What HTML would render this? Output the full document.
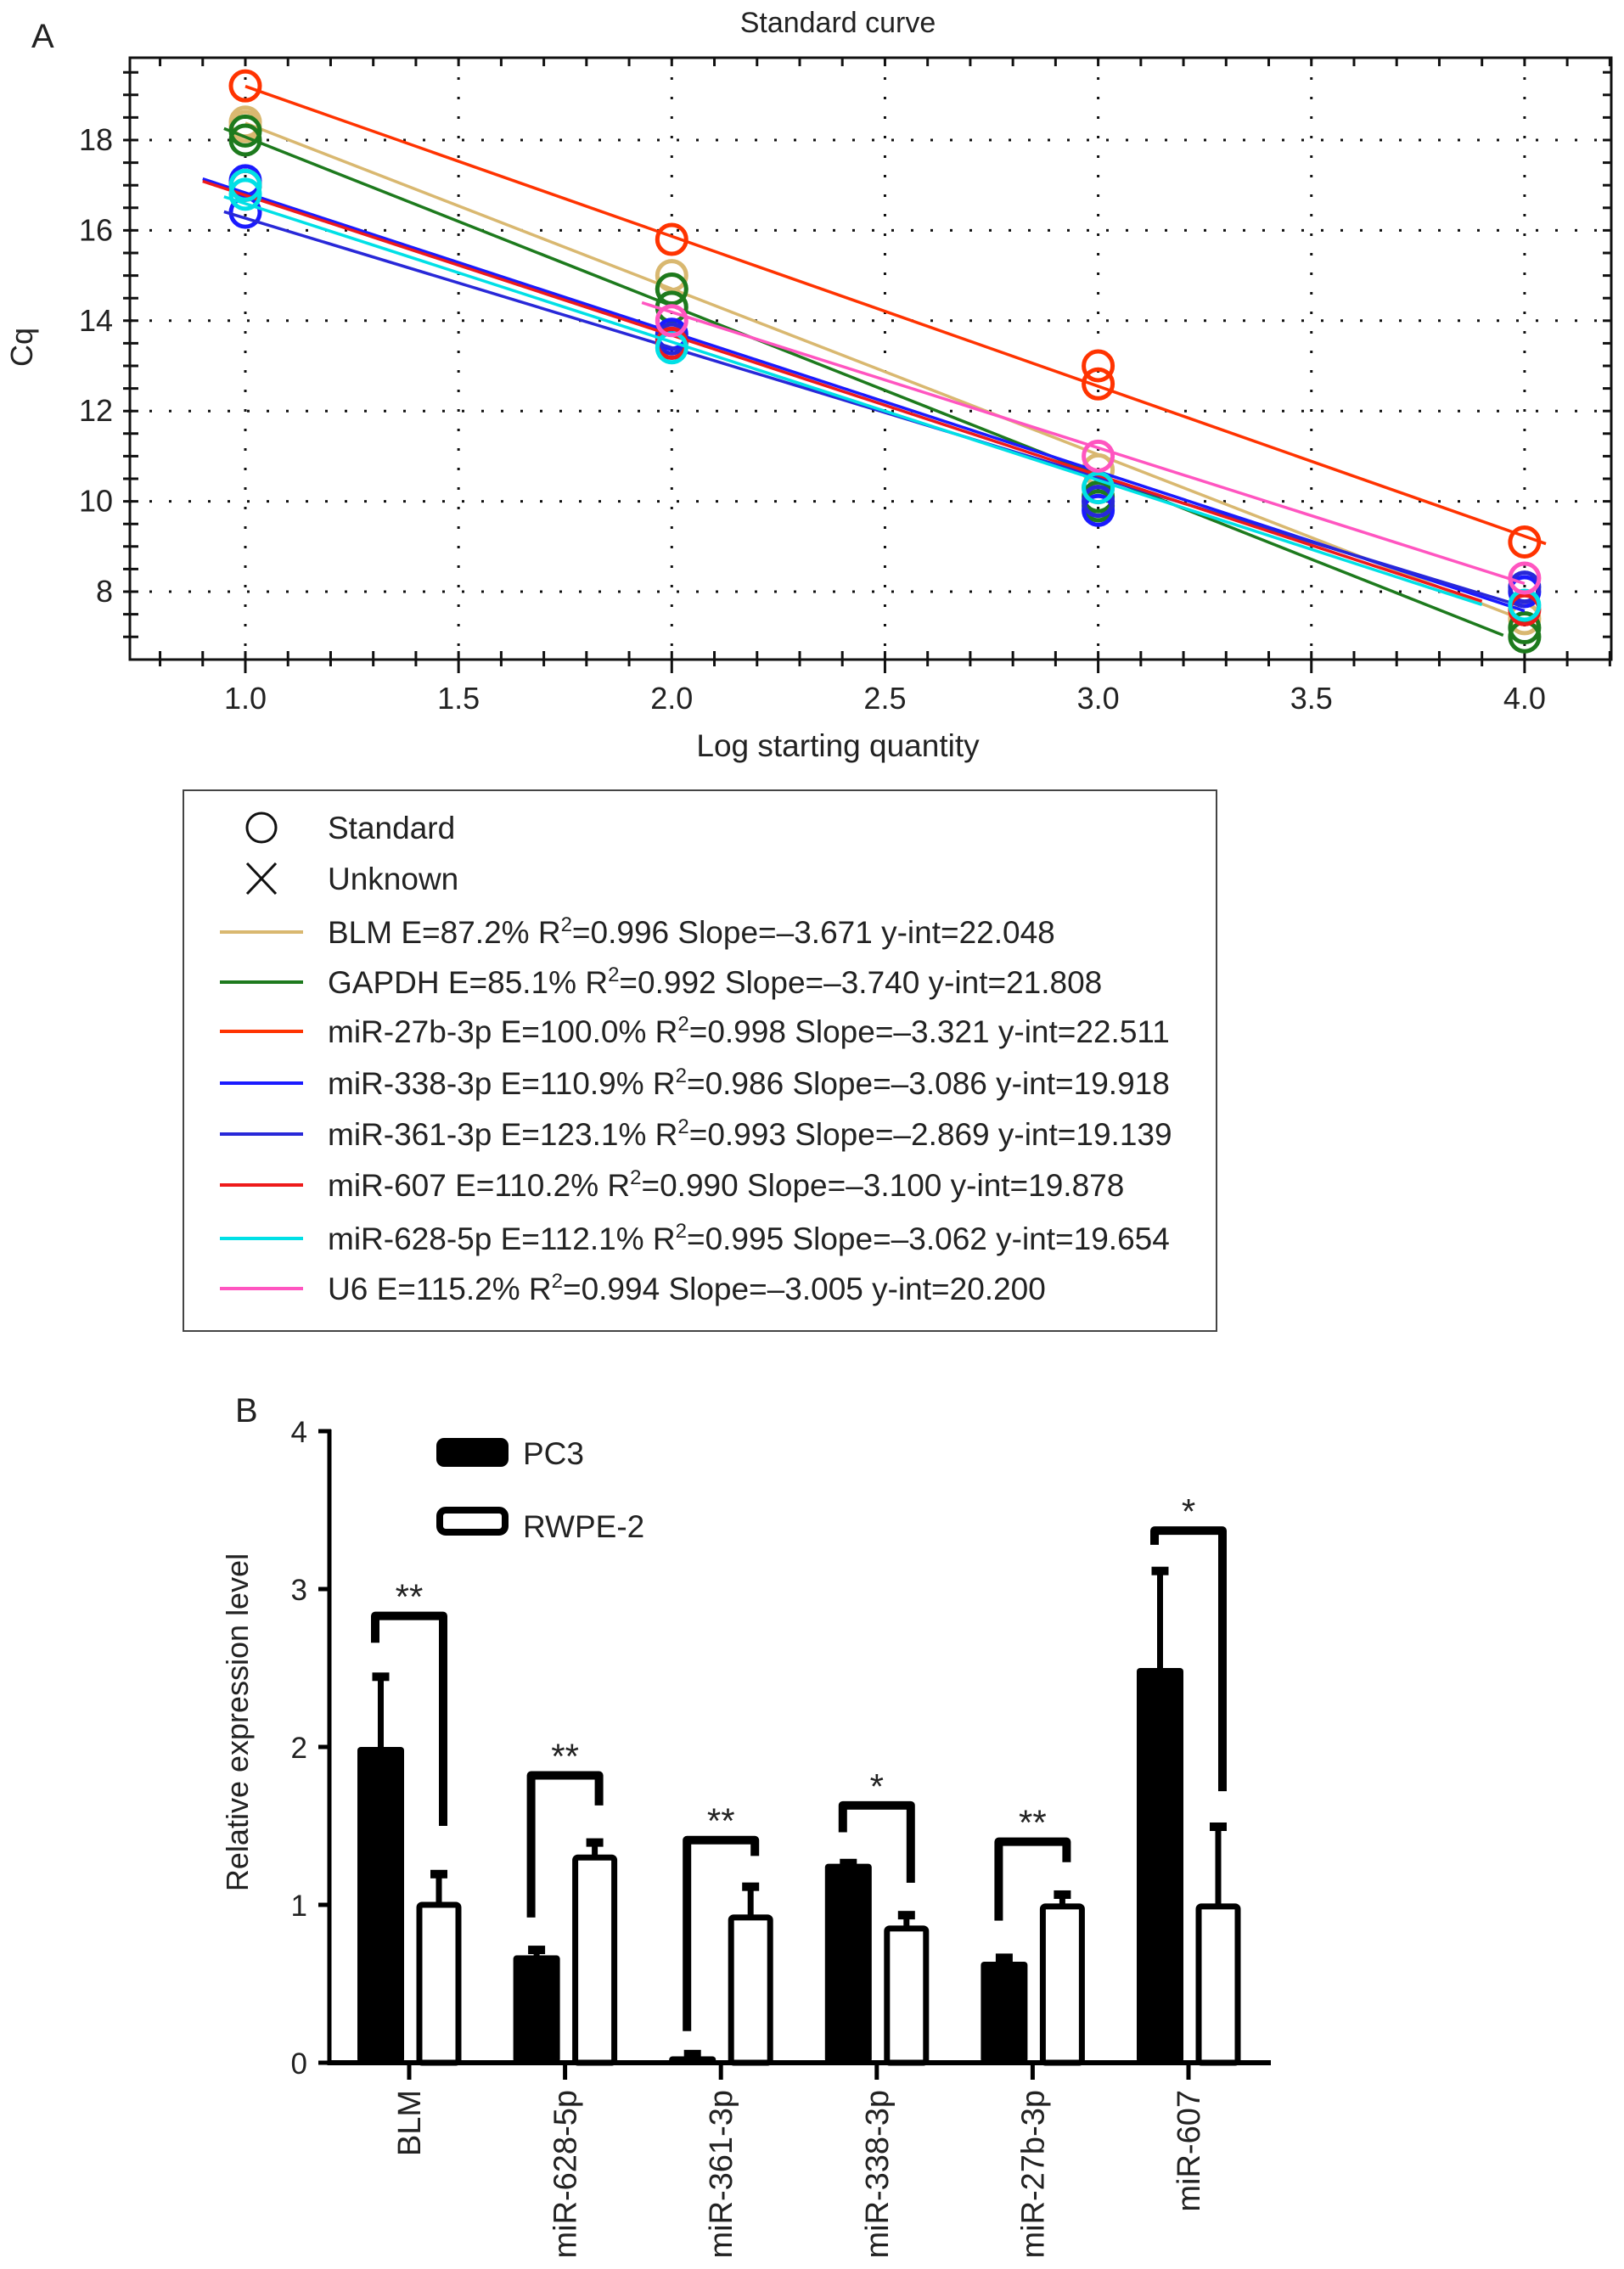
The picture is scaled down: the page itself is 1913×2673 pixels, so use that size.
<!DOCTYPE html>
<html><head><meta charset="utf-8"><style>
body{margin:0;background:#fff}
svg{display:block}
text{font-family:"Liberation Sans",sans-serif;fill:#222}
</style></head><body>
<svg id="fig" width="1913" height="2673" viewBox="0 0 1913 2673" xmlns="http://www.w3.org/2000/svg">
<text x="37" y="56" font-size="40">A</text>
<text x="987" y="38" font-size="34" text-anchor="middle">Standard curve</text>
<g id="plotA"></g>
<text transform="translate(38,409) rotate(-90)" font-size="36" text-anchor="middle">Cq</text>
<text x="987" y="891" font-size="37" text-anchor="middle">Log starting quantity</text>
<rect x="216" y="931" width="1217" height="637" fill="none" stroke="#444" stroke-width="2"/>
<g id="legA"></g>
<text x="277" y="1675" font-size="40">B</text>
<g id="plotB"></g>
</svg>
<script>
const NS="http://www.w3.org/2000/svg";
function mk(p,t,a){const e=document.createElementNS(NS,t);for(const k in a)e.setAttribute(k,a[k]);p.appendChild(e);return e;}
// ---- Panel A data ----
const seriesNames=["BLM","GAPDH","miR-27b-3p","miR-338-3p","miR-361-3p","miR-607","miR-628-5p","U6"];
const seriesColors=["#d9b870","#1d7a1d","#ff3300","#1a1aff","#2828d8","#ee1a1a","#00e0e6","#ff55c0"];
const effic=["87.2","85.1","100.0","110.9","123.1","110.2","112.1","115.2"];
const r2=["0.996","0.992","0.998","0.986","0.993","0.990","0.995","0.994"];
const slopes=[-3.671,-3.740,-3.321,-3.086,-2.869,-3.100,-3.062,-3.005];
const yints=[22.048,21.808,22.511,19.918,19.139,19.878,19.654,20.200];
const lineStart=[1.0,0.95,1.0,0.9,0.95,0.9,0.95,1.93];
const lineEnd=[4.0,3.95,4.05,4.0,4.0,3.9,3.9,4.0];
const ptX=[[1,1,2,2,3,4],[1,1,2,2,3,3,4,4],[1,2,3,3,4],[1,1,2,2,3,3,4],[1,2,3,4],[1,2,3,4],[1,1,2,3,4],[2,3,4]];
const ptY=[[18.3,18.4,15.0,14.7,10.7,7.4],[18.0,18.2,14.3,14.7,9.9,10.1,7.0,7.2],[19.2,15.8,13.0,12.6,9.1],[17.1,16.4,13.5,13.7,9.8,10.0,8.0],[17.0,13.6,10.0,8.1],[17.0,13.5,10.3,7.6],[17.0,16.8,13.4,10.3,7.7],[14.0,11.0,8.3]];
const xTicksA=["1.0","1.5","2.0","2.5","3.0","3.5","4.0"];
const yTicksA=["8","10","12","14","16","18"];
const ax=v=>289+(v-1)*502.3, ay=v=>697-(v-8)*53.2;
const A=document.getElementById('plotA');
const L=153,R=1898,T=68,B=777;
xTicksA.forEach(t=>{const g=mk(A,'line',{x1:ax(+t),x2:ax(+t),y1:T,y2:B,stroke:'#111','stroke-width':3,'stroke-dasharray':'3 20'});

});
yTicksA.forEach(t=>{const g=mk(A,'line',{x1:L,x2:R,y1:ay(+t),y2:ay(+t),stroke:'#111','stroke-width':3,'stroke-dasharray':'3 20'});

});
for(let v=0.8;v<=4.21;v+=0.1){const x=ax(v);const major=Math.abs(v*2-Math.round(v*2))<0.01;mk(A,'line',{x1:x,x2:x,y1:B-10,y2:B+(major?16:8),stroke:'#111','stroke-width':3});mk(A,'line',{x1:x,x2:x,y1:T,y2:T+10,stroke:'#111','stroke-width':3});}
for(let v=7;v<=19.6;v+=0.5){const y=ay(v);mk(A,'line',{x1:L-8,x2:L+10,y1:y,y2:y,stroke:'#111','stroke-width':3});mk(A,'line',{x1:R-10,x2:R,y1:y,y2:y,stroke:'#111','stroke-width':3});}
const frame=mk(A,'rect',{x:L,y:T,width:R-L,height:B-T,fill:'none',stroke:'#111','stroke-width':3});


xTicksA.forEach(t=>{const e=mk(A,'text',{x:ax(+t),y:835,'font-size':36,'text-anchor':'middle'});e.textContent=t;

});
yTicksA.forEach(t=>{const e=mk(A,'text',{x:133,y:ay(+t)+12,'font-size':36,'text-anchor':'end'});e.textContent=t;

});
seriesNames.forEach((n,i)=>{
 const g=mk(A,'g',{});
 
 
 ptX[i].forEach((x,j)=>{const c=mk(g,'circle',{cx:ax(x),cy:ay(ptY[i][j]),r:17,fill:'none',stroke:seriesColors[i],'stroke-width':5});
 
 });
 const x0=lineStart[i],x1=lineEnd[i];
 const l=mk(g,'line',{x1:ax(x0),y1:ay(yints[i]+slopes[i]*x0),x2:ax(x1),y2:ay(yints[i]+slopes[i]*x1),stroke:seriesColors[i],'stroke-width':3.5});
 
 
});
const LG=document.getElementById('legA');
const rowY=[975,1035,1098,1157,1215,1276,1336,1396,1459,1518];
mk(LG,'circle',{cx:308,cy:rowY[0],r:17,fill:'none',stroke:'#111','stroke-width':3});
mk(LG,'path',{d:`M291 ${rowY[1]-18}L325 ${rowY[1]+18}M325 ${rowY[1]-18}L291 ${rowY[1]+18}`,stroke:'#111','stroke-width':3});
[["Standard",0],["Unknown",1]].forEach(([t,k])=>{const e=mk(LG,'text',{x:386,y:rowY[k]+13,'font-size':37});e.textContent=t;

});
seriesNames.forEach((n,i)=>{const y=rowY[i+2];
 mk(LG,'line',{x1:259,x2:357,y1:y,y2:y,stroke:seriesColors[i],'stroke-width':4});
 const e=mk(LG,'text',{x:386,y:y+13,'font-size':37});
 e.innerHTML=`${n} E=${effic[i]}% R<tspan dy="-14" font-size="24">2</tspan><tspan dy="14">=${r2[i]} Slope=\u2013${Math.abs(slopes[i]).toFixed(3)} y-int=${yints[i].toFixed(3)}</tspan>`;
 
 });
// ---- Panel B data ----
const cats=["BLM","miR-628-5p","miR-361-3p","miR-338-3p","miR-27b-3p","miR-607"];
const pc3=[2.0,0.68,0.04,1.26,0.64,2.5];
const pc3Err=[0.45,0.04,0.02,0.01,0.03,0.62];
const rwpe=[1.0,1.3,0.92,0.85,0.99,0.99];
const rwpeErr=[0.2,0.1,0.2,0.09,0.08,0.51];
const brTop=[2.83,1.82,1.41,1.63,1.40,3.37];
const brLeft=[2.66,0.92,0.2,1.46,0.9,3.28];
const brRight=[1.5,1.63,1.31,1.14,1.27,1.72];
const stars=["**","**","**","*","**","*"];
const yTicksB=["0","1","2","3","4"];
const by=v=>2430-v*186, bx=i=>482+i*183.6;
const P=document.getElementById('plotB');
mk(P,'line',{x1:388,x2:388,y1:by(4)-2,y2:by(0)+3,stroke:'#000','stroke-width':5});
mk(P,'line',{x1:386,x2:1497,y1:by(0),y2:by(0),stroke:'#000','stroke-width':6});
yTicksB.forEach(t=>{mk(P,'line',{x1:375,x2:390,y1:by(+t),y2:by(+t),stroke:'#000','stroke-width':5});
 const e=mk(P,'text',{x:362,y:by(+t)+13,'font-size':35,'text-anchor':'end'});e.textContent=t;
 
 });
const yl=mk(P,'text',{transform:'translate(292,2029) rotate(-90)','font-size':36,'text-anchor':'middle'});yl.textContent="Relative expression level";


cats.forEach((c,i)=>{const x=bx(i);
 mk(P,'line',{x1:x,x2:x,y1:by(0),y2:by(0)+20,stroke:'#000','stroke-width':5});
 const t=mk(P,'text',{transform:`translate(${x+13},2462) rotate(-90)`,'font-size':38,'text-anchor':'end'});t.textContent=c;
 
 
 const bx0=x-61,bw=55;
 mk(P,'line',{x1:bx0+bw/2,x2:bx0+bw/2,y1:by(pc3[i]),y2:by(pc3[i]+pc3Err[i]),stroke:'#000','stroke-width':7});
 mk(P,'rect',{x:bx0+bw/2-10,y:by(pc3[i]+pc3Err[i])-4,width:20,height:10,fill:'#000'});
 const b1=mk(P,'rect',{x:bx0,y:by(pc3[i]),width:bw,height:by(0)-by(pc3[i]),fill:'#000',rx:4});
 
 
 const wx0=x+9,ww=52;
 mk(P,'line',{x1:wx0+ww/2,x2:wx0+ww/2,y1:by(rwpe[i]),y2:by(rwpe[i]+rwpeErr[i]),stroke:'#000','stroke-width':7});
 mk(P,'rect',{x:wx0+ww/2-10,y:by(rwpe[i]+rwpeErr[i])-4,width:20,height:10,fill:'#000'});
 const b2=mk(P,'rect',{x:wx0+3,y:by(rwpe[i]),width:ww-6,height:by(0)-by(rwpe[i]),fill:'#fff',stroke:'#000','stroke-width':7,rx:3});
 
 
 const br=mk(P,'path',{d:`M${x-40} ${by(brLeft[i])}V${by(brTop[i])}H${x+40}V${by(brRight[i])}`,fill:'none',stroke:'#000','stroke-width':10,'stroke-linejoin':'round'});
 
 
 const s=mk(P,'text',{x:x,y:by(brTop[i])-8,'font-size':42,'text-anchor':'middle'});s.textContent=stars[i];
 
 
});
const l1=mk(P,'rect',{x:514,y:1694,width:85,height:34,rx:9,fill:'#000'});


const l2=mk(P,'rect',{x:518,y:1779,width:77,height:26,rx:7,fill:'#fff',stroke:'#000','stroke-width':8});


const t1=mk(P,'text',{x:616,y:1725,'font-size':37});t1.textContent="PC3";


const t2=mk(P,'text',{x:616,y:1811,'font-size':37});t2.textContent="RWPE-2";


</script>
</body></html>
